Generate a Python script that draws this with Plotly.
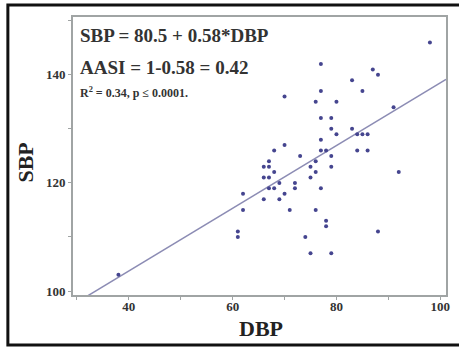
import plotly.graph_objects as go

# Data
dbp = [98, 77, 87, 88, 83, 77, 85, 70, 76, 80, 91, 77, 79, 79, 83, 80, 84, 85, 86, 77,
       70, 68, 77, 78, 84, 86, 73, 79, 67, 76, 66, 67, 75, 79, 92, 68, 76, 66, 67, 75,
       69, 72, 67, 68, 72, 77, 62, 70, 66, 69, 62, 71, 76, 78, 78, 61, 88, 61, 74, 75,
       79, 38]
sbp = [146, 142, 141, 140, 139, 137, 137, 136, 135, 135, 134, 132, 132, 130, 130, 129, 129, 129, 129, 128,
       127, 126, 126, 126, 126, 126, 125, 125, 124, 124, 123, 123, 123, 123, 122, 122, 122, 121, 121, 121,
       120, 120, 119, 119, 119, 119, 118, 118, 117, 117, 115, 115, 115, 113, 112, 111, 111, 110, 110, 107,
       107, 103]

intercept = 80.5
slope = 0.58
x_range = [29.25, 101.1]
y_range = [99.26, 150.7]
line_x = x_range
line_y = [intercept + slope * v for v in line_x]

x_ticks = [40, 60, 80, 100]
y_ticks = [100, 120, 140]

SERIF = "Liberation Serif, Times New Roman, serif"

fig = go.Figure()
fig.add_trace(go.Scatter(x=line_x, y=line_y, mode="lines",
                         line=dict(color="#8c8cb4", width=1.5), hoverinfo="skip",
                         showlegend=False))
fig.add_trace(go.Scatter(x=dbp, y=sbp, mode="markers",
                         marker=dict(size=4, color="#45458f"), showlegend=False))

axis_common = dict(showline=True, mirror=True, linecolor="#a0a4a4", linewidth=2,
                   ticks="outside", ticklen=3, tickcolor="#a0a4a4", showgrid=False,
                   zeroline=False,
                   tickfont=dict(family=SERIF, size=13, color="#333333", weight="bold"))

fig.update_xaxes(range=x_range, tickvals=x_ticks, ticktext=[str(t) for t in x_ticks],
                 minor=dict(tickvals=[30, 50, 70, 90], ticklen=3, tickcolor="#a0a4a4",
                            ticks="outside"),
                 ticklabelstandoff=-5,
                 **axis_common)
fig.update_yaxes(range=y_range, tickvals=y_ticks, ticktext=[str(t) for t in y_ticks],
                 minor=dict(tickvals=[110, 130, 150], ticklen=3, tickcolor="#a0a4a4",
                            ticks="outside"),
                 **axis_common)

# axis titles
fig.add_annotation(xref="paper", yref="paper", x=0.505, y=-0.119, xanchor="center", yanchor="middle",
                   text="<b>DBP</b>", showarrow=False,
                   font=dict(family=SERIF, size=22, color="#222222"))
fig.add_annotation(xref="paper", yref="paper", x=-0.127, y=0.475, xanchor="center", yanchor="middle",
                   text="<b>SBP</b>", showarrow=False, textangle=-90,
                   font=dict(family=SERIF, size=22, color="#222222"))

# equation texts
fig.add_annotation(xref="paper", yref="paper", x=0.013, y=0.932, xanchor="left", yanchor="middle",
                   text="<b>SBP = 80.5 + 0.58*DBP</b>", showarrow=False,
                   font=dict(family=SERIF, size=19, color="#333333"))
fig.add_annotation(xref="paper", yref="paper", x=0.013, y=0.818, xanchor="left", yanchor="middle",
                   text="<b>AASI = 1-0.58 = 0.42</b>", showarrow=False,
                   font=dict(family=SERIF, size=19, color="#333333"))
fig.add_annotation(xref="paper", yref="paper", x=0.013, y=0.73, xanchor="left", yanchor="middle",
                   text="<b>R<sup>2</sup> = 0.34, p ≤ 0.0001.</b>", showarrow=False,
                   font=dict(family=SERIF, size=12, color="#333333"))

# outer frame around the whole figure
fig.add_shape(type="rect", xref="paper", yref="paper",
              x0=-0.1746, x1=1.06, y0=-0.18, y1=1.043,
              line=dict(color="#111111", width=3), layer="above")

fig.update_layout(width=459, height=347,
                  margin=dict(l=73, r=9, t=17, b=52),
                  paper_bgcolor="white", plot_bgcolor="white")

fig.write_html("out.html", config={"displayModeBar": False},
               post_script="document.body.style.margin='0';document.body.style.overflow='hidden';")
